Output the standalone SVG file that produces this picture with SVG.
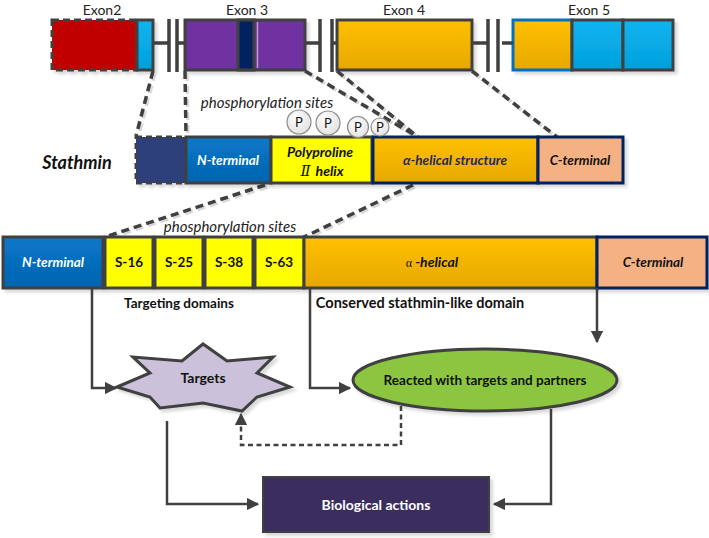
<svg xmlns="http://www.w3.org/2000/svg" width="709" height="538" viewBox="0 0 709 538">
<style>
.t{font-family:Lato,"Liberation Sans",Arial,sans-serif}
.b{font-weight:bold}
.i{font-style:italic}
.box{stroke:#404040;stroke-width:3}
.nv{stroke:#002060;stroke-width:3}
.dash{fill:none;stroke:#404040;stroke-width:3.5;stroke-dasharray:8 5}
.dsh{fill:none;stroke:#d9d9d9;stroke-width:3.5;stroke-dasharray:8 5}
.ln{fill:none;stroke:#404040;stroke-width:2.5}
.intr{fill:none;stroke:#404040;stroke-width:3.5}
</style>
<defs>
<linearGradient id="og" x1="0" y1="0" x2="0" y2="1"><stop offset="0" stop-color="#ffc000"/><stop offset="1" stop-color="#e6a800"/></linearGradient>
<linearGradient id="bg" x1="0" y1="0" x2="0" y2="1"><stop offset="0" stop-color="#0a78c8"/><stop offset="1" stop-color="#0064b0"/></linearGradient>
<linearGradient id="cg" x1="0" y1="0" x2="0" y2="1"><stop offset="0" stop-color="#10b4f0"/><stop offset="1" stop-color="#00a0dc"/></linearGradient>
<radialGradient id="pg" cx="0.4" cy="0.35" r="0.7"><stop offset="0" stop-color="#ffffff"/><stop offset="1" stop-color="#e0e0e0"/></radialGradient>
<filter id="sh" x="-10%" y="-10%" width="130%" height="140%"><feDropShadow dx="3" dy="3" stdDeviation="1.5" flood-color="#000" flood-opacity="0.15"/></filter>
<marker id="ar" viewBox="0 0 10 10" refX="9" refY="5" markerWidth="5" markerHeight="5" orient="auto" markerUnits="strokeWidth"><path d="M0,0 L10,5 L0,10 z" fill="#404040"/></marker>
</defs>

<!-- Gene row -->
<g id="gene">
<text class="t" x="102" y="15" font-size="14" text-anchor="middle" fill="#222">Exon2</text>
<text class="t" x="247" y="15" font-size="14" text-anchor="middle" fill="#222">Exon 3</text>
<text class="t" x="404" y="15" font-size="14" text-anchor="middle" fill="#222">Exon 4</text>
<text class="t" x="589" y="15" font-size="14" text-anchor="middle" fill="#222">Exon 5</text>
<g filter="url(#sh)">
<rect x="52" y="20" width="85" height="50" fill="#c00000" stroke="#404040" stroke-width="3" stroke-dasharray="7 4"/>
<rect x="137" y="20" width="16" height="50" fill="url(#cg)" class="box"/>
<rect x="185" y="20" width="120" height="50" fill="#7030a0" class="box"/>
<rect x="238" y="20" width="16" height="50" fill="#002060" class="box"/>
<rect x="337" y="20" width="135" height="50" fill="url(#og)" class="box"/>
<rect x="513" y="20" width="59" height="50" fill="url(#og)" stroke="#0070c0" stroke-width="3"/>
<rect x="572" y="20" width="51" height="50" fill="url(#cg)" class="box"/>
<rect x="623" y="20" width="50" height="50" fill="url(#cg)" class="box"/>
</g>
<line x1="257.5" y1="22" x2="257.5" y2="68" stroke="#b8a0c8" stroke-width="1.5"/>
<path class="intr" d="M153,43 H169 M177,43 H185 M169,19 V72 M177,19 V72 M305,43 H320 M332,43 H337 M320,19 V72 M332,19 V72 M472,43 H488 M502,43 H513 M488,19 V72 M498,19 V72"/>
</g>

<!-- dashed zoom lines -->
<g id="zoom-lines">
<path class="dsh" transform="translate(2,2)" d="M153,71 L136,136 M185,71 L186,136 M305,71 L418,137 M337,71 L418,137 M472,71 L557,137 M265,185 L105,237 M413,185 L304,237"/>
<path class="dash" d="M153,71 L136,136 M185,71 L186,136 M305,71 L418,137 M337,71 L418,137 M472,71 L557,137 M265,185 L105,237 M413,185 L304,237"/>
</g>

<!-- Stathmin row -->
<g id="stathmin">
<text class="t b i" x="77" y="169" font-size="18" text-anchor="middle" fill="#111">Stathmin</text>
<text class="t i" x="267" y="108" font-size="15" text-anchor="middle" fill="#222">phosphorylation sites</text>
<g filter="url(#sh)">
<rect x="136" y="137" width="50" height="46" fill="#2e3f7c" stroke="#404040" stroke-width="3" stroke-dasharray="6 4"/>
<rect x="186" y="137" width="85" height="46" fill="url(#bg)" class="box"/>
<rect x="271" y="137" width="101" height="46" fill="#ffff00" class="box"/>
<rect x="373" y="137" width="165" height="46" fill="url(#og)" class="nv"/>
<rect x="538" y="137" width="85" height="46" fill="#f4b183" class="nv"/>
</g>
<text class="t b i" x="228" y="165" font-size="13.5" text-anchor="middle" fill="#fff">N-terminal</text>
<text class="t b i" x="320" y="157" font-size="14" text-anchor="middle" fill="#111">Polyproline</text>
<text class="t b i" x="322" y="176" font-size="14" text-anchor="middle" fill="#111"><tspan font-family="'DejaVu Serif',serif" font-weight="normal" font-size="15">Ⅱ</tspan><tspan dx="5">helix</tspan></text>
<text class="t b i" x="455" y="165" font-size="13.5" text-anchor="middle" fill="#1f2a60">α-helical structure</text>
<text class="t b i" x="580" y="165" font-size="13.5" text-anchor="middle" fill="#111">C-terminal</text>
<g id="p-sites" stroke="#8c8c8c" stroke-width="1.2" fill="url(#pg)">
<circle cx="299" cy="122" r="12"/>
<circle cx="328" cy="123" r="12"/>
<circle cx="358" cy="127" r="10.5"/>
<circle cx="380" cy="127" r="9"/>
</g>
<g class="t" font-size="13" text-anchor="middle" fill="#111">
<text x="299" y="127">P</text>
<text x="328" y="128">P</text>
<text x="358" y="132">P</text>
<text x="380" y="132">P</text>
</g>
</g>

<!-- Detailed row -->
<g id="detail">
<text class="t i" x="230" y="232" font-size="15" text-anchor="middle" fill="#222">phosphorylation sites</text>
<g filter="url(#sh)">
<rect x="3" y="237" width="100" height="51" fill="url(#bg)" class="box"/>
<rect x="105" y="237" width="48" height="51" fill="#ffff00" class="box"/>
<rect x="155" y="237" width="48" height="51" fill="#ffff00" class="box"/>
<rect x="205" y="237" width="48" height="51" fill="#ffff00" class="box"/>
<rect x="255" y="237" width="49" height="51" fill="#ffff00" class="box"/>
<rect x="304" y="237" width="293" height="51" fill="url(#og)" class="box"/>
<rect x="597" y="237" width="110" height="51" fill="#f4b183" class="nv"/>
</g>
<text class="t b i" x="53" y="267" font-size="13.5" text-anchor="middle" fill="#fff">N-terminal</text>
<text class="t b" x="129" y="267" font-size="13.5" text-anchor="middle" fill="#111">S-16</text>
<text class="t b" x="179" y="267" font-size="13.5" text-anchor="middle" fill="#111">S-25</text>
<text class="t b" x="229" y="267" font-size="13.5" text-anchor="middle" fill="#111">S-38</text>
<text class="t b" x="279" y="267" font-size="13.5" text-anchor="middle" fill="#111">S-63</text>
<text class="t" x="432" y="267" font-size="14" text-anchor="middle" fill="#111"><tspan font-size="12" font-family="'Liberation Serif',serif">α</tspan><tspan font-weight="bold" font-style="italic"> -helical</tspan></text>
<text class="t b i" x="653" y="267" font-size="13.5" text-anchor="middle" fill="#111">C-terminal</text>
<text class="t b" x="179" y="308" font-size="13.5" text-anchor="middle" fill="#111">Targeting domains</text>
<text class="t b" x="420" y="308" font-size="14.5" text-anchor="middle" fill="#111">Conserved stathmin-like domain</text>
</g>

<!-- nodes -->
<g id="targets">
<polygon points="117,387 150,373 133,357 182,361 203,344 227,361 273,357 257,373 290,387 257,397 242,411 203,403 160,408 150,397" fill="#ccc1da" stroke="#404040" stroke-width="3" stroke-linejoin="miter" filter="url(#sh)"/>
<text class="t b" x="203" y="383" font-size="14" text-anchor="middle" fill="#111">Targets</text>
</g>
<g id="reacted">
<ellipse cx="485" cy="380" rx="132" ry="31" fill="#8cc63f" stroke="#404040" stroke-width="3" filter="url(#sh)"/>
<text class="t b" x="485" y="385" font-size="13.5" text-anchor="middle" fill="#111">Reacted with targets and partners</text>
</g>
<g id="bio">
<rect x="263" y="477" width="226" height="55" fill="#3b2d5e" stroke="#404040" stroke-width="2" filter="url(#sh)"/>
<text class="t b" x="376" y="510" font-size="14" text-anchor="middle" fill="#fff">Biological actions</text>
</g>

<!-- connectors -->
<g id="connectors">
<path class="ln" d="M92,288 V388 H116" marker-end="url(#ar)"/>
<path class="ln" d="M310,288 V388 H350" marker-end="url(#ar)"/>
<path class="ln" d="M597,288 V342" marker-end="url(#ar)"/>
<path class="ln" d="M167,421 V504 H258" marker-end="url(#ar)"/>
<path class="ln" d="M551,409 V504 H494" marker-end="url(#ar)"/>
<path class="ln" stroke-dasharray="5 3.5" d="M401,406 V445 H241 V414" marker-end="url(#ar)"/>
</g>
</svg>
